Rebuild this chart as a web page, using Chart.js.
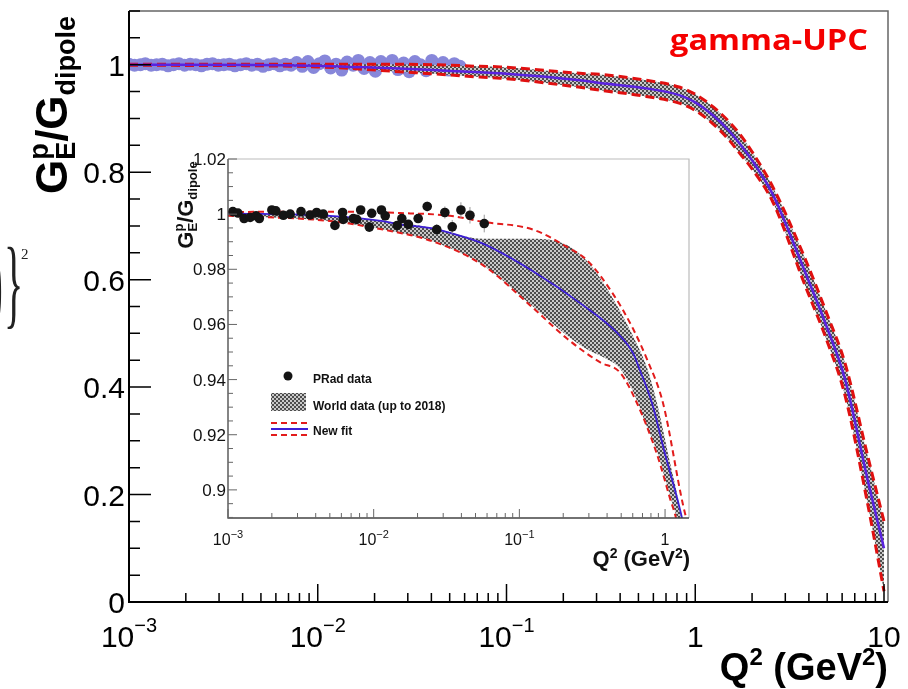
<!DOCTYPE html>
<html>
<head>
<meta charset="utf-8">
<title>GEp / Gdipole</title>
<script src="https://cdn.jsdelivr.net/npm/chart.js@4.4.1/dist/chart.umd.min.js"></script>
<style>
  body { margin: 0; background: #fff; }
  #wrap { position: relative; width: 908px; height: 689px; overflow: hidden; }
  #main { position: absolute; left: 0; top: 0; }
  #inset { position: absolute; left: 150px; top: 148px; }
</style>
</head>
<body>
<div id="wrap">
  <canvas id="main" width="908" height="689"></canvas>
  <canvas id="inset" width="550" height="440"></canvas>
</div>
<script>
//-------------
//- DATA -
//-------------
// PRad points shown in the inset: Q2 (GeV2), GE/Gdipole, error
var pradQ2 = [0.00108, 0.00117, 0.00129, 0.00142, 0.00156, 0.00164, 0.00200, 0.00213, 0.00240, 0.00267,
              0.00317, 0.00366, 0.00406, 0.00451, 0.00542, 0.00612, 0.00618, 0.00724, 0.00764, 0.00814,
              0.00933, 0.00969, 0.0113, 0.0120, 0.0145, 0.0156, 0.0173, 0.0202, 0.0233, 0.0271,
              0.0308, 0.0346, 0.0397, 0.0458, 0.0574];
var pradG = [1.0009, 1.0004, 0.9984, 0.9988, 0.9994, 0.9984, 1.0015, 1.0012, 0.9996, 1.0000,
             1.0009, 0.9997, 1.0006, 1.0000, 0.9959, 1.0006, 0.9981, 0.9984, 0.9981, 1.0015,
             0.9953, 1.0003, 1.0015, 0.9994, 0.9959, 0.9984, 0.9963, 0.9984, 1.0028, 0.9944,
             1.0006, 0.9954, 1.0015, 0.9996, 0.9966];
var pradErr = [0.0005, 0.0005, 0.0005, 0.0005, 0.0005, 0.0005, 0.0006, 0.0006, 0.0006, 0.0006,
               0.0007, 0.0007, 0.0007, 0.0007, 0.0008, 0.0008, 0.0008, 0.0009, 0.0009, 0.0009,
               0.0010, 0.0010, 0.0012, 0.0012, 0.0014, 0.0014, 0.0015, 0.0016, 0.0018, 0.0020,
               0.0022, 0.0025, 0.0028, 0.0030, 0.0032];

// PRad points shown in the main panel
var mainPradQ2 = [0.00100, 0.00107, 0.00115, 0.00122, 0.00131, 0.00140, 0.00150, 0.00161, 0.00172, 0.00184,
                  0.00197, 0.00211, 0.00226, 0.00242, 0.00259, 0.00277, 0.00297, 0.00318, 0.00340, 0.00364,
                  0.00390, 0.00418, 0.00447, 0.00479, 0.00513, 0.00549, 0.00588, 0.00630, 0.00674, 0.00722,
                  0.00773, 0.00828, 0.00887, 0.00950, 0.0102, 0.0109, 0.0117, 0.0125, 0.0134, 0.0143,
                  0.0154, 0.0164, 0.0176, 0.0189, 0.0202, 0.0216, 0.0232, 0.0248, 0.0266, 0.0285,
                  0.0305, 0.0327, 0.0350, 0.0375, 0.0402, 0.0430, 0.0461, 0.0494, 0.0529, 0.0567];
var mainPradG = [1.001, 0.999, 1.000, 1.002, 0.999, 1.000, 1.001, 0.998, 1.000, 1.002,
                 0.999, 1.001, 1.000, 0.998, 1.001, 1.002, 0.999, 1.000, 1.001, 0.998,
                 1.000, 1.002, 0.999, 1.001, 0.997, 1.000, 1.002, 0.998, 1.001, 0.999,
                 1.004, 0.997, 1.006, 0.995, 1.002, 1.007, 0.994, 1.001, 0.990, 1.005,
                 0.999, 1.008, 0.993, 1.004, 0.988, 1.006, 0.999, 1.008, 0.991, 1.003,
                 0.987, 1.006, 1.000, 0.989, 1.008, 0.996, 1.004, 0.990, 1.002, 0.997];

// new fit, main panel (grey band between the red dashed lines)
var mainFitQ2 = [0.001, 0.005, 0.01, 0.015, 0.027, 0.041, 0.0724, 0.0925, 0.245, 0.313, 0.55, 0.83, 1.0, 1.25,
                 1.5, 1.73, 2.0, 2.58, 3.81, 5.0, 6.21, 8.22, 10];
var mainFitG = [1.0, 0.9995, 0.998, 0.996, 0.993, 0.99, 0.986, 0.984, 0.971, 0.966, 0.956, 0.943, 0.930, 0.905,
                0.878, 0.852, 0.822, 0.758, 0.615, 0.51, 0.415, 0.225, 0.10];
var mainFitUp = [1.001, 1.001, 1.001, 1.001, 1.001, 1.0, 0.997, 0.996, 0.984, 0.982, 0.971, 0.958, 0.945, 0.921,
                 0.895, 0.870, 0.838, 0.772, 0.640, 0.535, 0.445, 0.27, 0.15];
var mainFitLow = [0.999, 0.998, 0.996, 0.993, 0.987, 0.983, 0.977, 0.975, 0.958, 0.9525, 0.941, 0.928, 0.915, 0.889,
                  0.861, 0.834, 0.806, 0.744, 0.590, 0.485, 0.385, 0.18, 0.02];

// new fit, inset
var insetFitQ2 = [0.001, 0.005, 0.0116, 0.0152, 0.0255, 0.0334, 0.0562, 0.124, 0.273, 0.468, 0.603, 0.673, 0.813, 1.0, 1.21, 1.33, 1.46];
var insetFitG = [1.0003, 0.9994, 0.9975, 0.9963, 0.9948, 0.9932, 0.9893, 0.9793, 0.967, 0.957, 0.9496, 0.9433, 0.9315, 0.913, 0.897, 0.888, 0.877];
var insetUpQ2 = [0.001, 0.005, 0.0152, 0.0334, 0.0562, 0.124, 0.212, 0.291, 0.439, 0.602, 0.751, 0.968, 1.33, 1.46];
var insetUpG = [1.0008, 1.0009, 1.0004, 0.9994, 0.9972, 0.9944, 0.9881, 0.9833, 0.9711, 0.9585, 0.9474, 0.9315, 0.8944, 0.886];
var insetLowQ2 = [0.001, 0.005, 0.0116, 0.0255, 0.0562, 0.124, 0.212, 0.357, 0.49, 0.641, 0.879, 1.08, 1.21, 1.46];
var insetLowG = [0.9994, 0.9975, 0.9944, 0.9901, 0.9815, 0.966, 0.9549, 0.9463, 0.9426, 0.9315, 0.913, 0.897, 0.888, 0.86];

// world data band, inset
var worldQ2 = [0.001, 0.005, 0.0116, 0.0255, 0.0562, 0.124, 0.212, 0.291, 0.38, 0.49, 0.60, 0.75, 0.88, 1.08, 1.25, 1.46];
var worldUp = [1.0003, 0.9994, 0.9975, 0.9950, 0.9911, 0.9911, 0.9888, 0.983, 0.9748, 0.965, 0.956, 0.9445, 0.9315, 0.910, 0.894, 0.865];
var worldLow = [0.9994, 0.9975, 0.9944, 0.9901, 0.9815, 0.9665, 0.9560, 0.951, 0.948, 0.944, 0.936, 0.923, 0.914, 0.898, 0.887, 0.87];

// ticks and labels
var mainXTicks = [0.001, 0.01, 0.1, 1, 10];
var mainXLabels = [["10", "\u22123"], ["10", "\u22122"], ["10", "\u22121"], ["1", ""], ["10", ""]];
var mainYTicks = [0, 0.2, 0.4, 0.6, 0.8, 1];
var mainYLabels = ["0", "0.2", "0.4", "0.6", "0.8", "1"];
var insetXTicks = [0.001, 0.01, 0.1, 1];
var insetXLabels = [["10", "\u22123"], ["10", "\u22122"], ["10", "\u22121"], ["1", ""]];
var insetYTicks = [0.9, 0.92, 0.94, 0.96, 0.98, 1, 1.02];
var insetYLabels = ["0.9", "0.92", "0.94", "0.96", "0.98", "1", "1.02"];
var legendLabels = ["PRad data", "World data (up to 2018)", "New fit"];

var FONT = "'Liberation Sans', Arial, Helvetica, sans-serif";
var IX = 150, IY = 148; // inset canvas offset on the page

//-------------
//- HELPERS -
//-------------
function pairs(xs, ys) {
    return xs.map(function (x, i) { return { x: x, y: ys[i] }; });
}

function checker(ctx) {
    var c = document.createElement("canvas");
    c.width = 4; c.height = 4;
    var g = c.getContext("2d");
    g.fillStyle = "#c9c9c9"; g.fillRect(0, 0, 4, 4);
    g.fillStyle = "#4d4d4d"; g.fillRect(0, 0, 2, 2); g.fillRect(2, 2, 2, 2);
    return ctx.createPattern(c, "repeat");
}

function setFont(ctx, p) {
    ctx.font = (p.bold ? "bold " : "") + p.size + "px " + FONT;
}

// parts: {t, size, bold, dy, adv}
function drawRich(ctx, parts, x, y, align) {
    var w = 0;
    parts.forEach(function (p) {
        setFont(ctx, p);
        if (p.adv !== false) w += ctx.measureText(p.t).width;
    });
    var cx = align === "right" ? x - w : align === "center" ? x - w / 2 : x;
    ctx.textAlign = "left";
    ctx.textBaseline = "alphabetic";
    parts.forEach(function (p) {
        setFont(ctx, p);
        ctx.fillText(p.t, cx, y + (p.dy || 0));
        if (p.adv !== false) cx += ctx.measureText(p.t).width;
    });
}

function drawFrame(chart, o) {
    var ctx = chart.ctx, a = chart.chartArea, xs = chart.scales.x, ys = chart.scales.y;
    ctx.save();
    ctx.strokeStyle = o.frameColor; ctx.lineWidth = o.frameWidth;
    ctx.beginPath();
    ctx.moveTo(a.left, a.top); ctx.lineTo(a.right, a.top); ctx.lineTo(a.right, a.bottom);
    ctx.stroke();
    ctx.strokeStyle = o.axisColor; ctx.lineWidth = o.axisWidth;
    ctx.beginPath();
    ctx.moveTo(a.left, a.top); ctx.lineTo(a.left, a.bottom); ctx.lineTo(a.right, a.bottom);
    ctx.stroke();
    ctx.strokeStyle = o.tickColor; ctx.lineWidth = o.tickWidth;
    ctx.beginPath();
    for (var d = -3; d <= 1; d++) {
        for (var k = 1; k <= 9; k++) {
            var v = k * Math.pow(10, d);
            if (v < xs.min * 0.999 || v > xs.max) continue;
            var px = xs.getPixelForValue(v);
            ctx.moveTo(px, a.bottom);
            ctx.lineTo(px, a.bottom - (k === 1 ? o.xMajor : o.xMinor));
        }
    }
    var i0 = Math.ceil(ys.min / o.yStep - 1e-6), i1 = Math.floor(ys.max / o.yStep + 1e-6);
    for (var i = i0; i <= i1; i++) {
        var py = ys.getPixelForValue(i * o.yStep);
        ctx.moveTo(a.left, py);
        ctx.lineTo(a.left + (i % o.yRatio === 0 ? o.yMajor : o.yMinor), py);
    }
    ctx.stroke();
    ctx.restore();
}

//-------------
//- MAIN CHART -
//-------------
var mainCanvas = document.getElementById("main");
var mainPattern = checker(mainCanvas.getContext("2d"));

var mainDecor = {
    id: "mainDecor",
    afterDatasetsDraw: function (chart) {
        drawFrame(chart, {
            frameColor: "#666", frameWidth: 1.5, axisColor: "#000", axisWidth: 2,
            tickColor: "#000", tickWidth: 1.5,
            xMajor: 18, xMinor: 9, yMajor: 22, yMinor: 11, yStep: 0.05, yRatio: 4
        });
    },
    afterDraw: function (chart) {
        var ctx = chart.ctx, xs = chart.scales.x, ys = chart.scales.y;
        ctx.save();
        ctx.fillStyle = "#000";
        ctx.font = "30px " + FONT;
        ctx.textAlign = "right";
        ctx.textBaseline = "alphabetic";
        mainYTicks.forEach(function (v, i) {
            ctx.fillText(mainYLabels[i], 125, ys.getPixelForValue(v) + 11);
        });
        mainXTicks.forEach(function (v, i) {
            drawRich(ctx, [
                { t: mainXLabels[i][0], size: 30 },
                { t: mainXLabels[i][1], size: 20, dy: -15 }
            ], xs.getPixelForValue(v), 647, "center");
        });
        // axis titles
        drawRich(ctx, [
            { t: "Q", size: 38, bold: true },
            { t: "2", size: 24, bold: true, dy: -15 },
            { t: " (GeV", size: 38, bold: true },
            { t: "2", size: 24, bold: true, dy: -15 },
            { t: ")", size: 38, bold: true }
        ], 888, 680, "right");
        ctx.save();
        ctx.translate(67, 105);
        ctx.rotate(-Math.PI / 2);
        drawRich(ctx, [
            { t: "G", size: 44, bold: true },
            { t: "p", size: 27, bold: true, dy: -19, adv: false },
            { t: "E", size: 27, bold: true, dy: 8 },
            { t: "/", size: 44, bold: true },
            { t: "G", size: 44, bold: true },
            { t: "dipole", size: 27, bold: true, dy: 8 }
        ], 0, 0, "center");
        ctx.restore();
        // tag
        ctx.save();
        ctx.fillStyle = "#f40000";
        ctx.font = "bold 28px 'Open Sans', " + FONT;
        var tw = ctx.measureText("gamma-UPC").width;
        ctx.translate(868 - 198, 50);
        ctx.scale(198 / tw, 1);
        ctx.textAlign = "left";
        ctx.fillText("gamma-UPC", 0, 0);
        ctx.restore();
        // cut-off formula at the left edge
        ctx.fillStyle = "#222";
        ctx.font = "100px 'Liberation Serif', serif";
        ctx.textAlign = "left";
        ctx.save(); ctx.translate(-9, 316); ctx.scale(0.35, 1); ctx.fillText(")", 0, 0); ctx.restore();
        ctx.save(); ctx.translate(4, 316); ctx.scale(0.4, 1); ctx.fillText("}", 0, 0); ctx.restore();
        ctx.font = "15px 'Liberation Serif', serif";
        ctx.fillText("2", 21, 259);
        ctx.restore();
    }
};

new Chart(mainCanvas, {
    type: "line",
    data: {
        datasets: [
            { label: "New fit", data: pairs(mainFitQ2, mainFitG), borderColor: "#5a22e0", borderWidth: 2.5,
              pointRadius: 0, fill: false, cubicInterpolationMode: "monotone", order: 0 },
            { label: "New fit up", data: pairs(mainFitQ2, mainFitUp), borderColor: "#e01010", borderWidth: 3,
              borderDash: [9, 5], pointRadius: 0, fill: false, cubicInterpolationMode: "monotone", order: 1 },
            { label: "New fit low", data: pairs(mainFitQ2, mainFitLow), borderColor: "#e01010", borderWidth: 3,
              borderDash: [9, 5], pointRadius: 0, fill: false, cubicInterpolationMode: "monotone", order: 2 },
            { label: "World up", data: pairs(mainFitQ2, mainFitUp), borderWidth: 0, pointRadius: 0,
              fill: "+1", backgroundColor: mainPattern, cubicInterpolationMode: "monotone", order: 3 },
            { label: "World low", data: pairs(mainFitQ2, mainFitLow), borderWidth: 0, pointRadius: 0,
              fill: false, cubicInterpolationMode: "monotone", order: 4 },
            { label: "PRad data", data: pairs(mainPradQ2, mainPradG), showLine: false, pointRadius: 6.5,
              pointBackgroundColor: "#8787da", pointBorderWidth: 0, order: 5 }
        ]
    },
    options: {
        responsive: false,
        animation: false,
        devicePixelRatio: 1,
        layout: { padding: { left: 129, top: 11, right: 20, bottom: 87 } },
        plugins: { legend: { display: false }, tooltip: { enabled: false } },
        scales: {
            x: { type: "logarithmic", min: 0.001, max: 10.5, display: false },
            y: { type: "linear", min: 0, max: 1.1, display: false }
        }
    },
    plugins: [mainDecor]
});

//-------------
//- INSET -
//-------------
var insetCanvas = document.getElementById("inset");
var insetPattern = checker(insetCanvas.getContext("2d"));

var insetDecor = {
    id: "insetDecor",
    beforeDraw: function (chart) {
        var a = chart.chartArea;
        chart.ctx.save();
        chart.ctx.fillStyle = "#fff";
        chart.ctx.fillRect(a.left, a.top, a.right - a.left, a.bottom - a.top);
        chart.ctx.restore();
    },
    beforeDatasetDraw: function (chart, args) {
        if (args.index !== 0) return;
        var ctx = chart.ctx, xs = chart.scales.x, ys = chart.scales.y;
        ctx.save();
        ctx.strokeStyle = "#9a9a9a";
        ctx.lineWidth = 1;
        ctx.beginPath();
        pradQ2.forEach(function (q, i) {
            var px = xs.getPixelForValue(q);
            ctx.moveTo(px, ys.getPixelForValue(pradG[i] + pradErr[i]));
            ctx.lineTo(px, ys.getPixelForValue(pradG[i] - pradErr[i]));
        });
        ctx.stroke();
        ctx.restore();
    },
    afterDatasetsDraw: function (chart) {
        drawFrame(chart, {
            frameColor: "#bbb", frameWidth: 1.2, axisColor: "#444", axisWidth: 1.3,
            tickColor: "#666", tickWidth: 1,
            xMajor: 9, xMinor: 5, yMajor: 9, yMinor: 5, yStep: 0.005, yRatio: 4
        });
    },
    afterDraw: function (chart) {
        var ctx = chart.ctx, xs = chart.scales.x, ys = chart.scales.y;
        ctx.save();
        ctx.fillStyle = "#111";
        ctx.font = "17px " + FONT;
        ctx.textAlign = "right";
        ctx.textBaseline = "alphabetic";
        insetYTicks.forEach(function (v, i) {
            ctx.fillText(insetYLabels[i], 226 - IX, ys.getPixelForValue(v) + 6);
        });
        insetXTicks.forEach(function (v, i) {
            drawRich(ctx, [
                { t: insetXLabels[i][0], size: 16 },
                { t: insetXLabels[i][1], size: 11, dy: -7 }
            ], xs.getPixelForValue(v), 545 - IY, "center");
        });
        drawRich(ctx, [
            { t: "Q", size: 22, bold: true },
            { t: "2", size: 14, bold: true, dy: -8 },
            { t: " (GeV", size: 22, bold: true },
            { t: "2", size: 14, bold: true, dy: -8 },
            { t: ")", size: 22, bold: true }
        ], 690 - IX, 566 - IY, "right");
        ctx.save();
        ctx.translate(193 - IX, 205 - IY);
        ctx.rotate(-Math.PI / 2);
        drawRich(ctx, [
            { t: "G", size: 22, bold: true },
            { t: "p", size: 13, bold: true, dy: -10, adv: false },
            { t: "E", size: 13, bold: true, dy: 4 },
            { t: "/", size: 22, bold: true },
            { t: "G", size: 22, bold: true },
            { t: "dipole", size: 13, bold: true, dy: 4 }
        ], 0, 0, "center");
        ctx.restore();

        // legend
        var ds = chart.data.datasets;
        ctx.translate(-IX, -IY);
        ctx.fillStyle = ds[0].pointBackgroundColor;
        ctx.beginPath();
        ctx.arc(288, 376, 4.5, 0, 2 * Math.PI);
        ctx.fill();
        ctx.fillStyle = insetPattern;
        ctx.fillRect(271, 393, 35, 18);
        ctx.lineWidth = 2;
        ctx.setLineDash(ds[2].borderDash);
        ctx.strokeStyle = ds[2].borderColor;
        ctx.beginPath();
        ctx.moveTo(271, 423); ctx.lineTo(308, 423);
        ctx.moveTo(271, 435); ctx.lineTo(308, 435);
        ctx.stroke();
        ctx.setLineDash([]);
        ctx.strokeStyle = ds[1].borderColor;
        ctx.beginPath();
        ctx.moveTo(271, 429); ctx.lineTo(308, 429);
        ctx.stroke();
        ctx.fillStyle = "#111";
        ctx.font = "bold 12px " + FONT;
        ctx.textAlign = "left";
        ctx.fillText(legendLabels[0], 313, 383);
        ctx.fillText(legendLabels[1], 313, 410);
        ctx.fillText(legendLabels[2], 313, 435);
        ctx.restore();
    }
};

new Chart(insetCanvas, {
    type: "line",
    data: {
        datasets: [
            { label: "PRad data", data: pairs(pradQ2, pradG), showLine: false, pointRadius: 4.8,
              pointBackgroundColor: "#141414", pointBorderWidth: 0, order: 0 },
            { label: "New fit", data: pairs(insetFitQ2, insetFitG), borderColor: "#3c1ed6", borderWidth: 1.8,
              pointRadius: 0, fill: false, cubicInterpolationMode: "monotone", order: 1 },
            { label: "New fit up", data: pairs(insetUpQ2, insetUpG), borderColor: "#e21c1c", borderWidth: 2,
              borderDash: [6, 4], pointRadius: 0, fill: false, cubicInterpolationMode: "monotone", order: 2 },
            { label: "New fit low", data: pairs(insetLowQ2, insetLowG), borderColor: "#e21c1c", borderWidth: 2,
              borderDash: [6, 4], pointRadius: 0, fill: false, cubicInterpolationMode: "monotone", order: 3 },
            { label: "World up", data: pairs(worldQ2, worldUp), borderWidth: 0, pointRadius: 0,
              fill: "+1", backgroundColor: insetPattern, cubicInterpolationMode: "monotone", order: 4 },
            { label: "World low", data: pairs(worldQ2, worldLow), borderWidth: 0, pointRadius: 0,
              fill: false, cubicInterpolationMode: "monotone", order: 5 }
        ]
    },
    options: {
        responsive: false,
        animation: false,
        devicePixelRatio: 1,
        layout: { padding: { left: 78, top: 11, right: 11, bottom: 70 } },
        plugins: { legend: { display: false }, tooltip: { enabled: false } },
        scales: {
            x: { type: "logarithmic", min: 0.001, max: 1.46, display: false },
            y: { type: "linear", min: 0.8898, max: 1.02, display: false }
        }
    },
    plugins: [insetDecor]
});
</script>
</body>
</html>
